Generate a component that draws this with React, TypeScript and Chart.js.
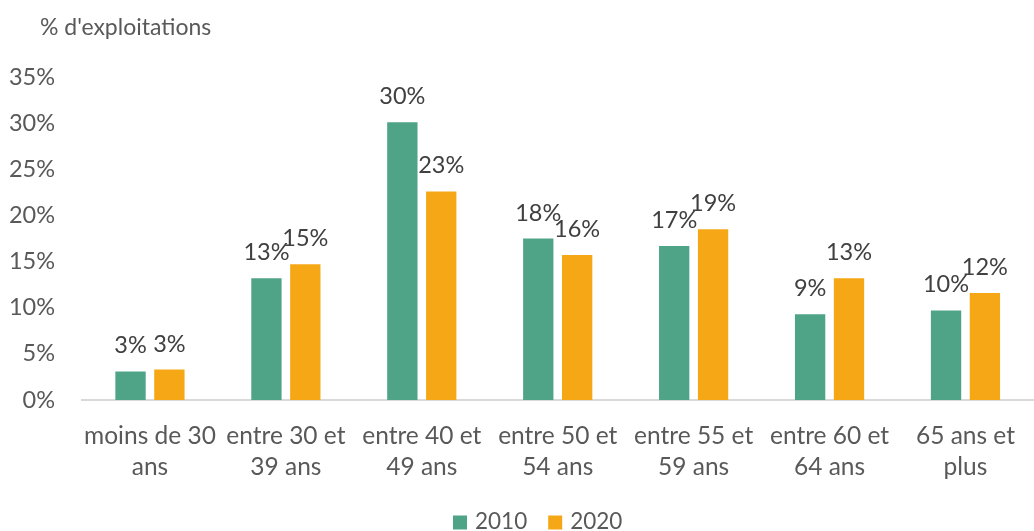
import React, { useEffect, useRef } from "react";
import { Chart, registerables } from "chart.js";

Chart.register(...registerables);

const categories: string[][] = [
  ["moins de 30", "ans"],
  ["entre 30 et", "39 ans"],
  ["entre 40 et", "49 ans"],
  ["entre 50 et", "54 ans"],
  ["entre 55 et", "59 ans"],
  ["entre 60 et", "64 ans"],
  ["65 ans et", "plus"],
];
const seriesNames = ["2010", "2020"];
const values2010 = [3.1, 13.2, 30.1, 17.5, 16.7, 9.3, 9.7];
const values2020 = [3.3, 14.7, 22.6, 15.7, 18.5, 13.2, 11.6];
const labels2010 = ["3%", "13%", "30%", "18%", "17%", "9%", "10%"];
const labels2020 = ["3%", "15%", "23%", "16%", "19%", "13%", "12%"];
const yTicks = [0, 5, 10, 15, 20, 25, 30, 35];
const axisTitle = "% d'exploitations";

const GREEN = "#4fa387";
const ORANGE = "#f5a716";
const FONT = "Lato";

const overlayPlugin = {
  id: "overlay",
  afterDatasetsDraw(chart: any) {
    const ctx = chart.ctx;
    ctx.save();
    // data labels
    const allLabels = [labels2010, labels2020];
    ctx.font = `23.5px ${FONT}`;
    ctx.fillStyle = "#404040";
    ctx.textAlign = "center";
    ctx.textBaseline = "alphabetic";
    chart.data.datasets.forEach((ds: any, di: number) => {
      const meta = chart.getDatasetMeta(di);
      meta.data.forEach((el: any, i: number) => {
        ctx.fillText(allLabels[di][i], el.x, el.y - 18);
      });
    });
    // axis title
    ctx.font = `23px ${FONT}`;
    ctx.fillStyle = "#595959";
    ctx.textAlign = "left";
    ctx.fillText(axisTitle, 40, 35);
    // legend
    let x = 453;
    ctx.font = `22.5px ${FONT}`;
    chart.data.datasets.forEach((ds: any) => {
      ctx.fillStyle = ds.backgroundColor;
      ctx.fillRect(x, 515.5, 14, 14);
      x += 14 + 8;
      ctx.fillStyle = "#595959";
      ctx.fillText(ds.label, x, 529);
      x += ctx.measureText(ds.label).width + 21;
    });
    ctx.restore();
  },
};

export default function App() {
  const ref = useRef<HTMLCanvasElement>(null);
  useEffect(() => {
    document.body.style.margin = "0";
    const chart = new Chart(ref.current!, {
      type: "bar",
      data: {
        labels: categories,
        datasets: [
          {
            label: seriesNames[0],
            data: values2010,
            backgroundColor: GREEN,
            barPercentage: 0.78,
            categoryPercentage: 0.572,
          },
          {
            label: seriesNames[1],
            data: values2020,
            backgroundColor: ORANGE,
            barPercentage: 0.78,
            categoryPercentage: 0.572,
          },
        ],
      },
      options: {
        responsive: false,
        animation: false,
        devicePixelRatio: 1,
        layout: { padding: { top: 77, left: 0, right: 0, bottom: 0 } },
        plugins: {
          legend: { display: false },
          tooltip: { enabled: false },
          title: { display: false },
        },
        scales: {
          x: {
            grid: { display: false, drawTicks: false },
            border: { display: true, color: "#d9d9d9", width: 2 },
            ticks: {
              color: "#595959",
              font: { family: FONT, size: 24.5, lineHeight: "31px" as any },
              padding: 21,
              autoSkip: false,
              maxRotation: 0,
            },
            afterFit: (s: any) => {
              s.height = 131;
            },
          },
          y: {
            min: 0,
            max: 35,
            grid: { display: false, drawTicks: false },
            border: { display: false },
            afterBuildTicks: (s: any) => {
              s.ticks = yTicks.map((v) => ({ value: v }));
            },
            ticks: {
              color: "#595959",
              font: { family: FONT, size: 23.5 },
              padding: 27,
              callback: (v: any) => `${v}%`,
            },
            afterFit: (s: any) => {
              s.width = 82;
            },
          },
        },
      },
      plugins: [overlayPlugin],
    });
    return () => chart.destroy();
  }, []);
  return (
    <div
      style={{
        position: "fixed",
        left: 0,
        top: 0,
        width: 1034,
        height: 531,
        overflow: "hidden",
        background: "#fff",
      }}
    >
      <canvas ref={ref} width={1036} height={531} style={{ display: "block" }} />
    </div>
  );
}
